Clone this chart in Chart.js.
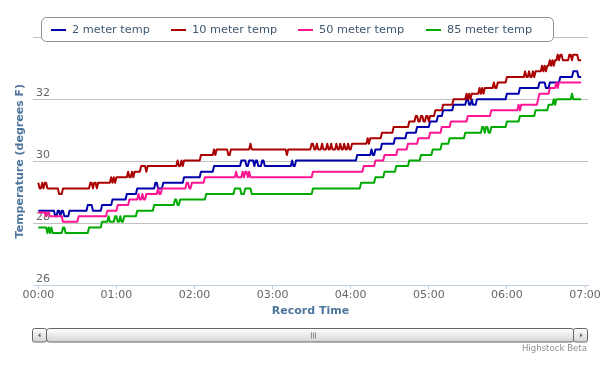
<!DOCTYPE html>
<html>
<head>
<meta charset="utf-8">
<script src="https://cdn.jsdelivr.net/npm/chart.js@4"></script>
<style>
html,body{margin:0;padding:0;background:#fff;}
canvas{display:block;}
</style>
</head>
<body>
<canvas id="c" width="616" height="370"></canvas>
<script>
// ---- data (time in minutes after 00:00, temperature in degrees F) ----
// each reading: [minute at which the value was first recorded, value]
const seriesNames = ['2 meter temp', '10 meter temp', '50 meter temp', '85 meter temp'];
const hourTicks = [0, 60, 120, 180, 240, 300, 360, 420];
const tempTicks = [26, 28, 30, 32, 34];

const readings2m = [
  [0,28.40],[13,28.22],[15,28.40],[17,28.22],[18,28.40],[20,28.22],[24,28.40],[38,28.58],[42,28.40],
  [49,28.58],[57,28.76],[68,28.94],[76,29.12],[90,29.30],[92,29.12],[96,29.30],[112,29.48],[125,29.66],
  [135,29.84],[156,30.02],[160,29.84],[162,30.02],[166,29.84],[167,30.02],[169,29.84],[172,30.02],[174,29.84],
  [195,30.02],[196,29.84],[198,30.02],[245,30.20],[256,30.38],[257,30.20],[259,30.38],[264,30.56],[274,30.74],
  [283,30.92],[291,31.10],[301,31.28],[307,31.46],[311,31.64],[319,31.82],[329,32.00],[331,31.82],[333,32.00],
  [334,31.82],[337,32.00],[360,32.18],[370,32.36],[385,32.54],[390,32.36],[393,32.54],[401,32.72],[411,32.90],
  [415,32.72],[417,32.72]
];

const readings10m = [
  [0,29.30],[1,29.12],[3,29.30],[4,29.12],[5,29.30],[7,29.12],[16,28.94],[19,29.12],[40,29.30],[42,29.12],
  [43,29.30],[45,29.12],[46,29.30],[56,29.48],[57,29.30],[58,29.48],[59,29.30],[60,29.48],[69,29.66],[70,29.48],
  [72,29.66],[73,29.48],[74,29.66],[79,29.84],[83,29.66],[84,29.84],[107,30.02],[108,29.84],[110,30.02],[111,29.84],
  [112,30.02],[125,30.20],[135,30.38],[136,30.20],[137,30.38],[146,30.20],[148,30.38],[163,30.56],[164,30.38],
  [191,30.20],[192,30.38],[210,30.56],[212,30.38],[214,30.56],[215,30.38],[218,30.56],[219,30.38],[222,30.56],
  [223,30.38],[225,30.56],[226,30.38],[229,30.56],[230,30.38],[232,30.56],[233,30.38],[235,30.56],[236,30.38],
  [238,30.56],[239,30.38],[241,30.56],[253,30.74],[254,30.56],[255,30.74],[264,30.92],[273,31.10],[285,31.28],
  [290,31.46],[292,31.28],[294,31.46],[296,31.28],[298,31.46],[300,31.28],[301,31.46],[305,31.64],[311,31.82],
  [319,32.00],[329,32.18],[330,32.00],[331,32.18],[332,32.00],[333,32.18],[339,32.36],[340,32.18],[341,32.36],
  [342,32.18],[343,32.36],[350,32.54],[351,32.36],[353,32.54],[360,32.72],[374,32.90],[375,32.72],[377,32.90],
  [378,32.72],[380,32.90],[381,32.72],[382,32.90],[387,33.08],[388,32.90],[389,33.08],[390,32.90],[391,33.08],
  [393,33.26],[394,33.08],[395,33.26],[396,33.08],[397,33.26],[399,33.44],[400,33.26],[401,33.44],[403,33.26],
  [408,33.44],[410,33.26],[411,33.44],[415,33.26],[417,33.26]
];

const readings50m = [
  [0,28.34],[6,28.22],[7,28.34],[9,28.22],[19,28.04],[31,28.22],[53,28.40],[61,28.58],[70,28.76],[77,28.94],
  [78,28.76],[80,28.94],[81,28.76],[83,28.94],[92,29.12],[93,28.94],[95,29.12],[114,29.30],[116,29.12],[118,29.30],
  [128,29.48],[152,29.66],[153,29.48],[157,29.66],[158,29.48],[159,29.66],[161,29.48],[162,29.66],[163,29.48],
  [211,29.66],[250,29.84],[259,30.02],[266,30.20],[276,30.38],[284,30.56],[292,30.74],[301,30.92],[310,31.10],
  [317,31.28],[330,31.46],[348,31.64],[369,31.82],[370,31.64],[371,31.82],[384,32.00],[385,32.18],[393,32.36],
  [398,32.54],[399,32.36],[400,32.54],[417,32.54]
];

const readings85m = [
  [0,27.86],[7,27.68],[8,27.86],[9,27.68],[10,27.86],[11,27.68],[19,27.86],[21,27.68],[39,27.86],[49,28.04],
  [54,28.22],[55,28.04],[59,28.22],[61,28.04],[63,28.22],[64,28.04],[66,28.22],[76,28.40],[89,28.58],[105,28.76],
  [107,28.58],[109,28.76],[129,28.94],[151,29.12],[156,28.94],[159,29.12],[164,28.94],[211,29.12],[248,29.30],
  [259,29.48],[266,29.66],[275,29.84],[285,30.02],[294,30.20],[303,30.38],[310,30.56],[316,30.74],[328,30.92],
  [341,31.10],[343,30.92],[344,31.10],[346,30.92],[348,31.10],[360,31.28],[370,31.46],[382,31.64],[392,31.82],
  [396,32.00],[397,31.82],[398,32.00],[410,32.18],[411,32.00],[417,32.00]
];

// ---- styles ----
const seriesColors = ['#0000AA', '#AA0000', '#FF1493', '#00AA00'];
const allReadings = [readings2m, readings10m, readings50m, readings85m];

const pad2 = n => String(n).padStart(2, '0');
const fmtTime = v => pad2(Math.floor(v / 60)) + ':' + pad2(Math.round(v % 60));

// A value is held until the minute before the next reading (1-minute sampling).
function toPoints(readings) {
  const pts = [];
  readings.forEach(([t, v], i) => {
    if (i > 0) {
      const [pt, pv] = readings[i - 1];
      if (t - 1 > pt) pts.push({ x: t - 1, y: pv });
    }
    pts.push({ x: t, y: v });
  });
  return pts;
}

function roundRectPath(ctx, x, y, w, h, r) {
  ctx.beginPath();
  ctx.moveTo(x + r, y);
  ctx.lineTo(x + w - r, y);
  ctx.arcTo(x + w, y, x + w, y + r, r);
  ctx.lineTo(x + w, y + h - r);
  ctx.arcTo(x + w, y + h, x + w - r, y + h, r);
  ctx.lineTo(x + r, y + h);
  ctx.arcTo(x, y + h, x, y + h - r, r);
  ctx.lineTo(x, y + r);
  ctx.arcTo(x, y, x + r, y, r);
  ctx.closePath();
}

const legendBoxPlugin = {
  id: 'legendBox',
  afterDraw(chart) {
    const ctx = chart.ctx;
    ctx.save();
    roundRectPath(ctx, 41.5, 17.5, 512, 24, 5);
    ctx.fillStyle = '#FFFFFF';
    ctx.fill();
    ctx.lineWidth = 1;
    ctx.strokeStyle = '#909090';
    ctx.stroke();
    const symbolX = [51, 171, 298, 426];
    ctx.font = '11.3px "DejaVu Sans"';
    ctx.textBaseline = 'middle';
    ctx.textAlign = 'left';
    chart.data.datasets.forEach((ds, i) => {
      ctx.strokeStyle = ds.borderColor;
      ctx.lineWidth = 2;
      ctx.beginPath();
      ctx.moveTo(symbolX[i], 30);
      ctx.lineTo(symbolX[i] + 15, 30);
      ctx.stroke();
      ctx.fillStyle = '#3E576F';
      ctx.fillText(ds.label, symbolX[i] + 21, 30.5);
    });
    ctx.restore();
  }
};

const scrollbarPlugin = {
  id: 'scrollbar',
  afterDraw(chart) {
    const ctx = chart.ctx;
    ctx.save();
    const top = 328.5, h = 13.5;
    const grad = ctx.createLinearGradient(0, top, 0, top + h);
    grad.addColorStop(0, '#FFFFFF');
    grad.addColorStop(1, '#D4D4D4');
    ctx.lineWidth = 1;
    roundRectPath(ctx, 46.5, top, 527.5, h, 3);
    ctx.fillStyle = grad; ctx.fill();
    ctx.strokeStyle = '#666666'; ctx.stroke();
    [[32.5, 14], [573.5, 14]].forEach(([bx, bw]) => {
      roundRectPath(ctx, bx, top, bw, h, 2);
      ctx.fillStyle = grad; ctx.fill();
      ctx.strokeStyle = '#666666'; ctx.stroke();
    });
    ctx.fillStyle = '#666666';
    ctx.beginPath(); ctx.moveTo(38, 335.3); ctx.lineTo(40.5, 333); ctx.lineTo(40.5, 337.6); ctx.closePath(); ctx.fill();
    ctx.beginPath(); ctx.moveTo(582.5, 335.3); ctx.lineTo(580, 333); ctx.lineTo(580, 337.6); ctx.closePath(); ctx.fill();
    ctx.strokeStyle = '#8A8A8A';
    [311.5, 313.5, 315.5].forEach(gx => {
      ctx.beginPath(); ctx.moveTo(gx, 332.5); ctx.lineTo(gx, 338.5); ctx.stroke();
    });
    ctx.font = '8.6px "DejaVu Sans"';
    ctx.fillStyle = '#909090';
    ctx.textAlign = 'right';
    ctx.textBaseline = 'middle';
    ctx.fillText('Highstock Beta', 587, 349);
    ctx.restore();
  }
};

const datasets = allReadings.map((r, i) => ({
  label: seriesNames[i],
  data: toPoints(r),
  borderColor: seriesColors[i],
  backgroundColor: seriesColors[i],
  borderWidth: 2,
  pointRadius: 0,
  tension: 0,
  borderJoinStyle: 'round',
  fill: false,
  order: 4 - i
}));

new Chart(document.getElementById('c').getContext('2d'), {
  type: 'line',
  data: { datasets },
  options: {
    responsive: false,
    animation: false,
    events: [],
    layout: { padding: { top: 37.3, right: 28, bottom: 0, left: 0 } },
    plugins: { legend: { display: false }, tooltip: { enabled: false }, title: { display: false } },
    scales: {
      x: {
        type: 'linear',
        min: -4.07,
        max: 422.3,
        afterBuildTicks: axis => { axis.ticks = hourTicks.map(v => ({ value: v })); },
        afterFit: axis => { axis.height = 85; axis.paddingLeft = 0; axis.paddingRight = 0; },
        ticks: {
          autoSkip: false,
          maxRotation: 0,
          padding: 0,
          color: '#666666',
          font: { family: 'DejaVu Sans', size: 11 },
          callback: v => fmtTime(v)
        },
        grid: { drawOnChartArea: false, drawTicks: true, tickLength: 4, color: '#C0D0E0' },
        border: { display: true, color: '#C0D0E0', width: 1 },
        title: {
          display: true,
          text: 'Record Time',
          color: '#4D759E',
          font: { family: 'DejaVu Sans', size: 11, weight: 'bold' },
          padding: { top: 0, bottom: 52.7 }
        }
      },
      y: {
        type: 'linear',
        min: 26,
        max: 34,
        afterBuildTicks: axis => { axis.ticks = tempTicks.map(v => ({ value: v })); },
        afterFit: axis => { axis.width = 33; axis.paddingTop = 0; axis.paddingBottom = 0; },
        ticks: {
          mirror: true,
          padding: 3,
          labelOffset: -6,
          color: '#666666',
          font: { family: 'DejaVu Sans', size: 11 },
          callback: v => (v === 34 ? '' : String(v))
        },
        grid: { drawTicks: false, color: '#C0C0C0', lineWidth: 1 },
        border: { display: false },
        title: {
          display: true,
          text: 'Temperature (degrees F)',
          color: '#4D759E',
          font: { family: 'DejaVu Sans', size: 11, weight: 'bold' },
          padding: { top: 13.4, bottom: 0 }
        }
      }
    }
  },
  plugins: [legendBoxPlugin, scrollbarPlugin]
});
</script>
</body>
</html>
